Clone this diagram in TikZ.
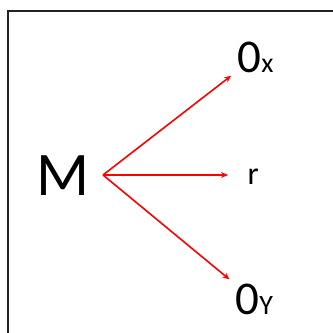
\documentclass[tikz,border=0pt]{standalone}
\usepackage{fontspec}
\setmainfont{Carlito}
\usepackage{xcolor}
\usetikzlibrary{arrows.meta,calc}

\definecolor{framegray}{RGB}{34,34,34}
\tikzset{
    frame/.style={draw=framegray,line width=2pt},
    link/.style={red,line width=1.6pt,-{Stealth[length=7pt,width=6pt]},shorten >=8pt},
    label/.style={inner sep=0pt,outer sep=0pt,anchor=base west},
}
\newcommand{\zerolbl}[1]{{\fontsize{47}{47}\selectfont 0}{\fontsize{28}{28}\selectfont #1}}

\begin{document}
\begin{tikzpicture}[x=1pt,y=1pt]
    \useasboundingbox (0,0) rectangle (333,333);
    % Frame
    \draw[frame] (7.5,-10) |- (345,321.5);
    % Labels
    \node[inner sep=0pt,anchor=base,font=\fontsize{62}{62}\selectfont] (M) at (63.5,137) {M};
    \coordinate (hub) at (103,158);
    \node[label] (ox) at (237.5,261) {\zerolbl{x}};
    \node[label,font=\fontsize{32}{32}\selectfont] (r) at (247.5,149) {r};
    \node[label] (oy) at (235.5,18) {\zerolbl{Y}};
    % Arrows
    \draw[link] (hub) -- (ox);
    \draw[link,shorten >=19.5pt] (hub) -- (hub -| r.west);
    \draw[link] (hub) -- (oy);
\end{tikzpicture}
\end{document}
